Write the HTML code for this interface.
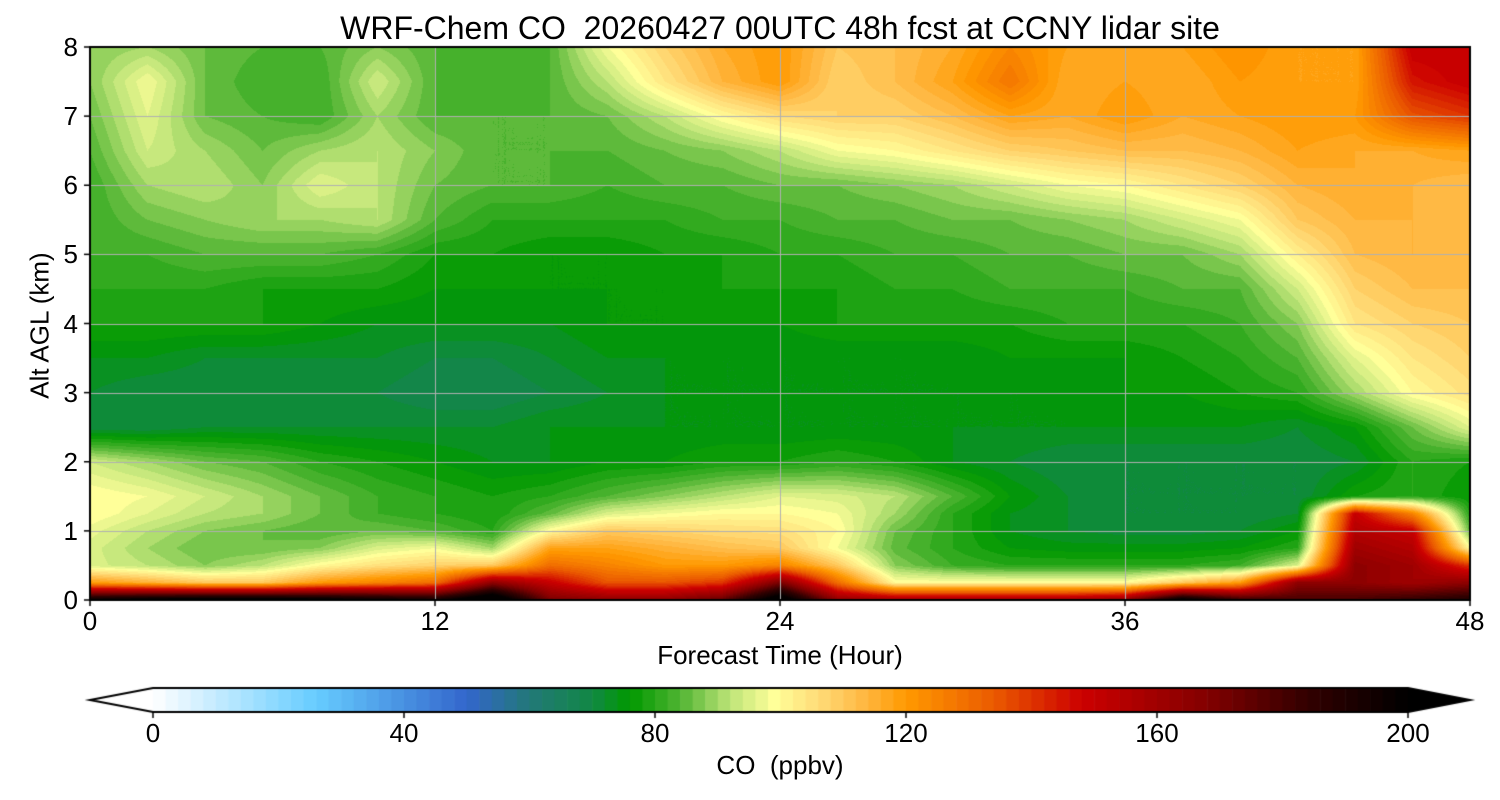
<!DOCTYPE html>
<html><head><meta charset="utf-8"><style>
body{margin:0;background:#fff;width:1500px;height:800px;overflow:hidden;font-family:"Liberation Sans",sans-serif}
.t{position:absolute;color:#000;white-space:nowrap}
</style></head><body>
<div class="t" style="left:0;width:1560px;text-align:center;top:10px;font-size:32px">WRF-Chem CO&nbsp; 20260427 00UTC 48h fcst at CCNY lidar site</div>
<canvas id="c" width="1500" height="800" style="position:absolute;left:0;top:0"></canvas>
<div id="lbl"></div>
<script>
const times=[0,2,4,6,8,10,12,14,16,18,20,22,24,26,28,30,32,34,36,38,40,42,44,46,48];
const heights=[0,0.25,0.5,0.75,1,1.25,1.5,2,2.5,3,3.5,4,4.5,5,5.5,6,6.5,7,7.5,8];
const coValues=[
[200,205,208,208,205,200,195,215,170,165,165,175,210,165,160,160,160,160,165,205,185,180,180,185,190],
[120,115,110,110,120,125,130,165,150,135,135,140,170,130,100,100,100,100,100,110,120,165,165,160,165],
[95,92,88,92,100,105,108,110,130,125,120,120,125,110,88,82,80,80,80,80,82,95,165,160,140],
[95,90,86,86,88,95,98,90,118,118,115,112,110,98,85,80,76,75,75,75,76,80,160,155,100],
[97,92,88,86,84,86,84,80,100,110,108,106,105,100,86,80,74,72,71,71,72,76,155,150,85],
[100,96,92,90,86,82,80,78,85,95,98,100,100,98,90,80,74,72,70,70,70,72,150,125,80],
[100,98,94,90,86,82,80,78,80,84,88,92,96,95,92,84,76,72,70,70,70,70,78,80,76],
[94,90,86,84,80,78,76,74,74,76,76,78,78,80,78,74,72,70,70,70,70,70,72,80,78],
[70,70,72,72,72,72,72,72,74,74,74,74,74,74,74,74,74,74,74,74,74,72,76,86,96],
[72,70,70,70,70,70,68,68,70,72,74,74,74,74,74,74,74,74,76,76,78,80,90,100,105],
[74,74,72,72,72,72,70,70,72,74,74,74,74,74,74,74,76,76,76,78,80,84,96,104,108],
[78,78,78,78,76,74,74,74,74,76,76,76,76,78,78,78,78,80,80,80,82,88,104,108,110],
[80,80,80,78,78,78,76,76,76,76,76,78,78,78,80,80,82,82,82,84,84,94,108,112,112],
[82,82,84,84,84,82,78,78,76,76,78,78,80,80,82,82,84,84,86,86,90,102,112,114,112],
[82,86,88,90,90,92,84,80,80,80,80,82,82,84,84,86,86,88,90,94,98,110,114,114,112],
[82,90,92,88,96,92,86,84,84,82,84,84,86,86,88,90,94,98,100,104,108,114,116,114,112],
[84,94,90,86,90,92,88,84,84,84,86,88,92,98,100,104,108,110,112,112,114,118,116,116,118],
[86,96,86,84,82,90,84,84,84,86,92,100,106,108,108,112,118,116,120,116,118,120,120,135,140],
[88,98,86,82,82,94,84,82,84,92,104,114,120,108,112,118,128,116,118,116,120,118,118,145,150],
[88,90,86,84,84,88,84,82,84,98,108,116,120,110,112,116,124,118,118,118,122,118,118,150,150]];
const xTicks=[0,12,24,36,48];
const yTicks=[0,1,2,3,4,5,6,7,8];
const cbTicks=[0,40,80,120,160,200];

const PL=90,PR=1470,PT=47,PB=600;
const xs=t=>PL+(t/48)*(PR-PL);
const ys=h=>PB-(h/8)*(PB-PT);
const stops=[[0,[255,255,255]],[26,[102,204,255]],[50,[51,102,204]],[60,[34,120,120]],[70,[17,136,68]],[76,[0,153,0]],[84,[80,180,50]],[92,[190,228,120]],[99,[255,255,153]],[106,[255,220,120]],[114,[255,180,60]],[120,[255,153,0]],[134,[235,90,0]],[148,[204,0,0]],[168,[130,0,0]],[184,[50,0,0]],[200,[0,0,0]]];
function cmap(v){v=Math.max(0,Math.min(199.9,v));v=Math.floor(v/2)*2+1;
 for(let i=1;i<stops.length;i++){if(v<=stops[i][0]){const a=stops[i-1],b=stops[i],f=(v-a[0])/(b[0]-a[0]);
 return a[1].map((c,k)=>Math.round(c+(b[1][k]-c)*f));}}return [0,0,0];}
function idx(arr,v){for(let i=0;i<arr.length-1;i++)if(v<=arr[i+1])return i;return arr.length-2;}
const cv=document.getElementById('c'),ctx=cv.getContext('2d');
const W=PR-PL,H=PB-PT,img=ctx.createImageData(W,H);
for(let py=0;py<H;py++){const h=(PB-(PT+py+0.5))/(PB-PT)*8;const j=idx(heights,h);const fy=(h-heights[j])/(heights[j+1]-heights[j]);
 for(let px=0;px<W;px++){const t=(px+0.5)/W*48;const i=idx(times,t);const fx=(t-times[i])/(times[i+1]-times[i]);
  const v=coValues[j][i]*(1-fx)*(1-fy)+coValues[j][i+1]*fx*(1-fy)+coValues[j+1][i]*(1-fx)*fy+coValues[j+1][i+1]*fx*fy;
  const c=cmap(v),o=(py*W+px)*4;img.data[o]=c[0];img.data[o+1]=c[1];img.data[o+2]=c[2];img.data[o+3]=255;}}
ctx.putImageData(img,PL,PT);
ctx.strokeStyle='#b0b0b0';ctx.lineWidth=1;
xTicks.forEach(t=>{ctx.beginPath();ctx.moveTo(Math.round(xs(t))+.5,PT);ctx.lineTo(Math.round(xs(t))+.5,PB);ctx.stroke();});
yTicks.forEach(h=>{ctx.beginPath();ctx.moveTo(PL,Math.round(ys(h))+.5);ctx.lineTo(PR,Math.round(ys(h))+.5);ctx.stroke();});
ctx.strokeStyle='#000';ctx.lineWidth=2;ctx.strokeRect(PL,PT,W,H);
ctx.lineWidth=1.5;
xTicks.forEach(t=>{ctx.beginPath();ctx.moveTo(xs(t),PB);ctx.lineTo(xs(t),PB+6);ctx.stroke();});
yTicks.forEach(h=>{ctx.beginPath();ctx.moveTo(PL,ys(h));ctx.lineTo(PL-6,ys(h));ctx.stroke();});
const C0=153,C1=1408,CT=688,CB=712,cx=v=>C0+v/200*(C1-C0);
for(let v=0;v<200;v+=2){const c=cmap(v);ctx.fillStyle=`rgb(${c})`;ctx.fillRect(cx(v),CT,cx(v+2)-cx(v)+0.6,CB-CT);}
ctx.fillStyle='#fff';ctx.beginPath();ctx.moveTo(C0,CT);ctx.lineTo(90,(CT+CB)/2);ctx.lineTo(C0,CB);ctx.fill();
ctx.fillStyle='#000';ctx.beginPath();ctx.moveTo(C1,CT);ctx.lineTo(1470,(CT+CB)/2);ctx.lineTo(C1,CB);ctx.fill();
ctx.lineWidth=2;ctx.beginPath();ctx.moveTo(C0,CT);ctx.lineTo(C1,CT);ctx.lineTo(1470,(CT+CB)/2);ctx.lineTo(C1,CB);ctx.lineTo(C0,CB);ctx.lineTo(90,(CT+CB)/2);ctx.closePath();ctx.stroke();
ctx.lineWidth=1.5;cbTicks.forEach(v=>{ctx.beginPath();ctx.moveTo(cx(v),CB);ctx.lineTo(cx(v),CB+6);ctx.stroke();});
const L=document.getElementById('lbl');
function lab(txt,x,y,name,extra){const d=document.createElement('div');d.className='t';d.textContent=txt;
 
 
 d.style.cssText+=`left:${x}px;top:${y}px;font-size:26px;`+(extra||'');L.appendChild(d);return d;}
xTicks.forEach(t=>lab(t,xs(t)-40,606,'x-tick-label','width:80px;text-align:center'));
yTicks.forEach(h=>lab(h,PL-60,ys(h)-15,'y-tick-label','width:48px;text-align:right'));
cbTicks.forEach(v=>lab(v,cx(v)-40,718,'colorbar-tick-label','width:80px;text-align:center'));
lab('Forecast Time (Hour)',PL,640,'x-axis-title',`width:${W}px;text-align:center`);
lab('CO  (ppbv)',PL,750,'colorbar-title',`width:${W}px;text-align:center;white-space:pre`);
lab('Alt AGL (km)',-50,310,'y-axis-title','width:180px;text-align:center;transform:rotate(-90deg)');
</script>
</body></html>
